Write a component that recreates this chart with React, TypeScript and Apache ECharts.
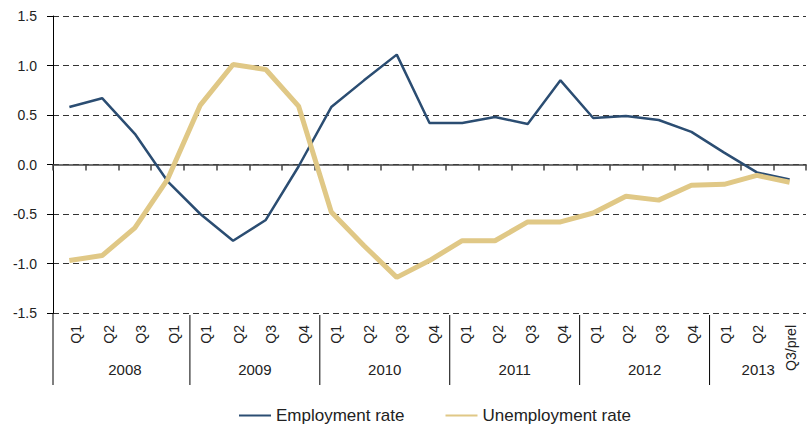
import React, { useEffect, useRef } from "react";
import * as echarts from "echarts";

const quarters = [
  "Q1", "Q2", "Q3", "Q1",
  "Q1", "Q2", "Q3", "Q4",
  "Q1", "Q2", "Q3", "Q4",
  "Q1", "Q2", "Q3", "Q4",
  "Q1", "Q2", "Q3", "Q4",
  "Q1", "Q2", "Q3/prel",
];
const years = ["2008", "2009", "2010", "2011", "2012", "2013"];
const yearSizes = [4, 4, 4, 4, 4, 3];

const employment = [
  0.58, 0.67, 0.31, -0.17,
  -0.5, -0.77, -0.56, -0.02,
  0.58, 0.85, 1.11, 0.42,
  0.42, 0.48, 0.41, 0.85,
  0.47, 0.49, 0.45, 0.33,
  0.12, -0.08, -0.15,
];
const unemployment = [
  -0.97, -0.92, -0.64, -0.15,
  0.6, 1.01, 0.96, 0.59,
  -0.48, -0.82, -1.14, -0.97,
  -0.77, -0.77, -0.58, -0.58,
  -0.49, -0.32, -0.36, -0.21,
  -0.2, -0.11, -0.18,
];

const yTicks = { min: -1.5, max: 1.5, interval: 0.5 };

const BLUE = "#2b4d72";
const BEIGE = "#e0c886";
const TEXT = "#222";
const FONT = "Liberation Sans, Arial, sans-serif";

export default function App() {
  const ref = useRef<HTMLDivElement>(null);

  useEffect(() => {
    if (!ref.current) return;
    const chart = echarts.init(ref.current, null, { renderer: "svg" });
    const option: any = {
      animation: false,
      textStyle: { fontFamily: FONT },
      grid: [
        { left: 53, right: 1, top: 16, bottom: 111, containLabel: false },
        { left: 60, right: -6, top: 16, bottom: 111, containLabel: false },
      ],
      legend: {
        top: 402,
        left: 233,
        itemWidth: 32,
        itemHeight: 10,
        itemGap: 40,
        itemStyle: { opacity: 0 },
        textStyle: { fontSize: 17, color: TEXT, fontFamily: FONT },
        data: ["Employment rate", "Unemployment rate"],
      },
      xAxis: [
        {
          type: "category",
          gridIndex: 0,
          data: quarters,
          boundaryGap: true,
          axisLine: { onZero: true, lineStyle: { color: "#444", width: 1.5 } },
          axisTick: { show: true, inside: false, length: 6, interval: 0, lineStyle: { color: "#444", width: 1.5 } },
          axisLabel: { show: false },
          splitLine: { show: false },
        },
        {
          type: "category",
          gridIndex: 1,
          data: quarters,
          boundaryGap: true,
          position: "bottom",
          axisLine: { show: false, onZero: false },
          axisTick: { show: false },
          axisLabel: {
            show: true,
            interval: 0,
            rotate: 90,
            margin: 12,
            fontSize: 14,
            color: TEXT,
            fontFamily: FONT,
          },
          splitLine: { show: false },
        },
      ],
      yAxis: [
        {
          type: "value",
          gridIndex: 0,
          min: yTicks.min,
          max: yTicks.max,
          interval: yTicks.interval,
          axisLine: { show: true, lineStyle: { color: "#000", width: 1 } },
          axisTick: { show: true, inside: false, length: 6, lineStyle: { color: "#000" } },
          axisLabel: {
            fontSize: 14,
            color: TEXT,
            margin: 16,
            fontFamily: FONT,
            formatter: (v: number) => v.toFixed(1),
          },
          splitLine: { show: true, lineStyle: { color: "#333", type: [6, 4], width: 1 } },
        },
        {
          type: "value",
          gridIndex: 1,
          min: yTicks.min,
          max: yTicks.max,
          interval: yTicks.interval,
          show: false,
        },
      ],
      series: [
        {
          name: "Employment rate",
          type: "line",
          data: employment,
          symbol: "none",
          lineStyle: { color: BLUE, width: 2.5 },
          itemStyle: { color: BLUE },
          z: 2,
        },
        {
          name: "Unemployment rate",
          type: "line",
          data: unemployment,
          symbol: "none",
          lineStyle: { color: BEIGE, width: 5 },
          itemStyle: { color: BEIGE },
          z: 3,
        },
      ],
    };
    chart.setOption(option);

    // group separators and year labels, positioned from the label axis scale
    const px = (i: number) => chart.convertToPixel({ xAxisIndex: 1 }, i) as number;
    const yBottom = chart.convertToPixel({ yAxisIndex: 0 }, yTicks.min) as number;
    const x0 = chart.convertToPixel({ xAxisIndex: 0 }, 0) as number;
    const x1 = chart.convertToPixel({ xAxisIndex: 0 }, 1) as number;
    const band = px(1) - px(0);
    const lineLen = 72;
    const graphics: any[] = [];
    const left = x0 - (x1 - x0) / 2;
    graphics.push({
      type: "line",
      shape: { x1: left, y1: yBottom, x2: left, y2: yBottom + lineLen },
      style: { stroke: "#000", lineWidth: 1 },
      silent: true,
    });
    let start = 0;
    years.forEach((yr, gi) => {
      const size = yearSizes[gi];
      const end = start + size;
      const center = start + (size - 1) / 2;
      const lo = Math.floor(center);
      const frac = center - lo;
      const cx = px(lo) + frac * band;
      graphics.push({
        type: "text",
        x: cx,
        y: yBottom + 56,
        style: {
          text: yr,
          fill: TEXT,
          font: `15px ${FONT}`,
          align: "center",
          verticalAlign: "middle",
        },
        silent: true,
      });
      if (gi < years.length - 1) {
        const sx = (px(end - 1) + px(end)) / 2;
        graphics.push({
          type: "line",
          shape: { x1: sx, y1: yBottom + 2, x2: sx, y2: yBottom + lineLen },
          style: { stroke: "#000", lineWidth: 1 },
          silent: true,
        });
      }
      start = end;
    });
    chart.setOption({ graphic: graphics });

    return () => chart.dispose();
  }, []);

  return (
    <div
      ref={ref}
      style={{ position: "absolute", left: 0, top: 0, width: 807, height: 424 }}
    />
  );
}
